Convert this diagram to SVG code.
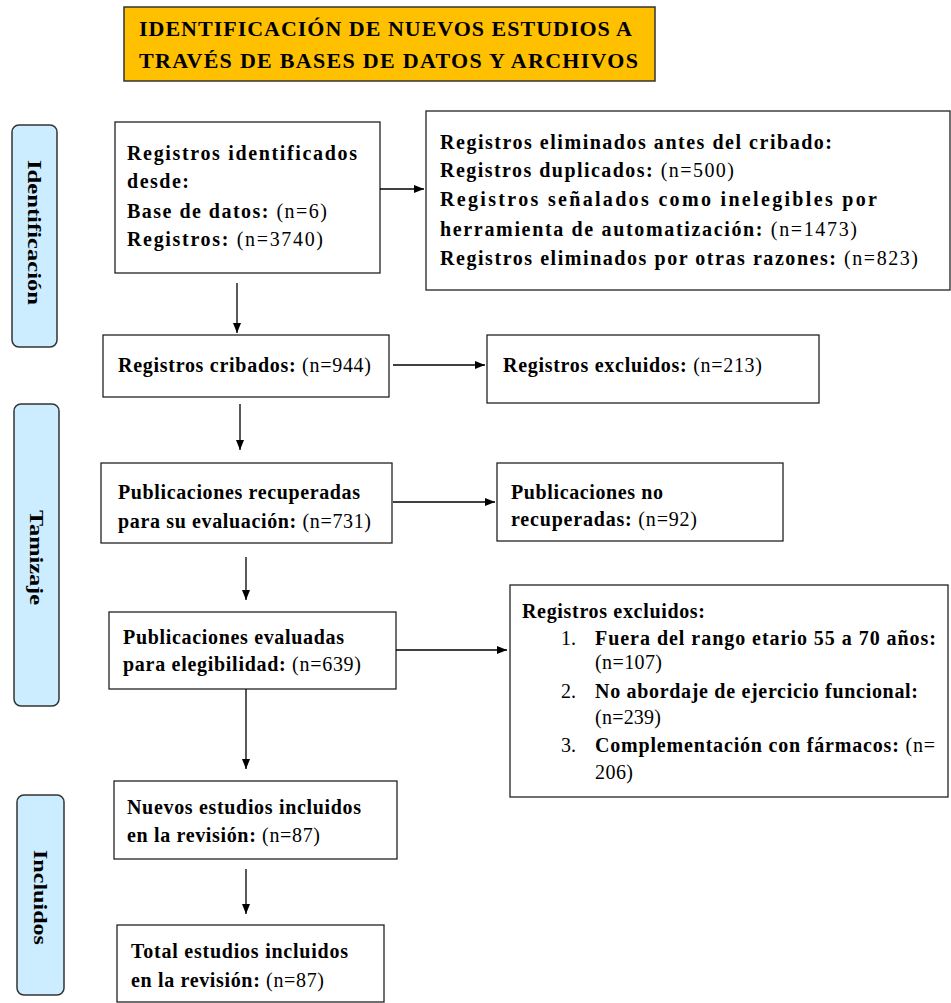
<svg xmlns="http://www.w3.org/2000/svg" width="951" height="1003" viewBox="0 0 951 1003">
<defs>
<style>
.box{fill:#fff;stroke:#222;stroke-width:1.3}
.side{fill:#CCECFF;stroke:#333;stroke-width:1.5}
.title{fill:#FFC000;stroke:#333;stroke-width:1.5}
text{font-family:"Liberation Serif","Times New Roman",serif;font-size:20px;fill:#000}
.b{font-weight:bold}
.n{font-weight:normal}
.t{font-size:22px;font-weight:bold}
.s{font-size:18px;font-weight:bold}
.c{stroke:#000;stroke-width:1.3;fill:none}
</style>
<marker id="ah" viewBox="0 0 10 10" refX="10" refY="5" markerWidth="10" markerHeight="10" markerUnits="userSpaceOnUse" orient="auto">
<path d="M0,1 L10,5 L0,9 Z" fill="#000"/>
</marker>
</defs>
<rect width="951" height="1003" fill="#fff"/>

<g id="title">
<rect class="title" x="124" y="7" width="531" height="74"/>
<text class="t" x="139" y="36" textLength="493" lengthAdjust="spacing">IDENTIFICACIÓN DE NUEVOS ESTUDIOS A</text>
<text class="t" x="139" y="68" textLength="499" lengthAdjust="spacing">TRAVÉS DE BASES DE DATOS Y ARCHIVOS</text>
</g>

<g id="side-identificacion">
<rect class="side" x="12" y="125" width="45" height="222" rx="7"/>
<text class="s" transform="translate(28,160) rotate(90)" textLength="145" lengthAdjust="spacingAndGlyphs">Identificación</text>
</g>
<g id="side-tamizaje">
<rect class="side" x="14" y="404" width="45" height="302" rx="7"/>
<text class="s" transform="translate(30,510) rotate(90)" textLength="95" lengthAdjust="spacingAndGlyphs">Tamizaje</text>
</g>
<g id="side-incluidos">
<rect class="side" x="17" y="795" width="47" height="200" rx="7"/>
<text class="s" transform="translate(34,850) rotate(90)" textLength="95" lengthAdjust="spacingAndGlyphs">Incluidos</text>
</g>

<g id="box-identificados">
<rect class="box" x="115" y="122" width="265" height="151"/>
<text class="b" x="127" y="160" textLength="230" lengthAdjust="spacing">Registros identificados</text>
<text class="b" x="127" y="188" textLength="62" lengthAdjust="spacing">desde:</text>
<text x="127" y="218" textLength="200" lengthAdjust="spacing"><tspan class="b">Base de datos:</tspan><tspan class="n"> (n=6)</tspan></text>
<text x="127" y="246" textLength="196" lengthAdjust="spacing"><tspan class="b">Registros:</tspan><tspan class="n"> (n=3740)</tspan></text>
</g>

<g id="box-eliminados">
<rect class="box" x="426" y="111" width="524" height="179"/>
<text class="b" x="440" y="149" textLength="392" lengthAdjust="spacing">Registros eliminados antes del cribado:</text>
<text x="440" y="177" textLength="294" lengthAdjust="spacing"><tspan class="b">Registros duplicados:</tspan><tspan class="n"> (n=500)</tspan></text>
<text class="b" x="440" y="206" textLength="437" lengthAdjust="spacing">Registros señalados como inelegibles por</text>
<text x="440" y="236" textLength="417" lengthAdjust="spacing"><tspan class="b">herramienta de automatización:</tspan><tspan class="n"> (n=1473)</tspan></text>
<text x="440" y="265" textLength="478" lengthAdjust="spacing"><tspan class="b">Registros eliminados por otras razones:</tspan><tspan class="n"> (n=823)</tspan></text>
</g>

<g id="box-cribados">
<rect class="box" x="103" y="335" width="286" height="62"/>
<text x="118" y="372" textLength="253" lengthAdjust="spacing"><tspan class="b">Registros cribados:</tspan><tspan class="n"> (n=944)</tspan></text>
</g>

<g id="box-excluidos-213">
<rect class="box" x="487" y="335" width="332" height="68"/>
<text x="503" y="372" textLength="259" lengthAdjust="spacing"><tspan class="b">Registros excluidos:</tspan><tspan class="n"> (n=213)</tspan></text>
</g>

<g id="box-recuperadas">
<rect class="box" x="101" y="463" width="291" height="80"/>
<text class="b" x="118" y="499" textLength="242" lengthAdjust="spacing">Publicaciones recuperadas</text>
<text x="118" y="528" textLength="253" lengthAdjust="spacing"><tspan class="b">para su evaluación:</tspan><tspan class="n"> (n=731)</tspan></text>
</g>

<g id="box-no-recuperadas">
<rect class="box" x="497" y="463" width="286" height="78"/>
<text class="b" x="511" y="499" textLength="152" lengthAdjust="spacing">Publicaciones no</text>
<text x="511" y="526" textLength="186" lengthAdjust="spacing"><tspan class="b">recuperadas:</tspan><tspan class="n"> (n=92)</tspan></text>
</g>

<g id="box-evaluadas">
<rect class="box" x="109" y="612" width="287" height="77"/>
<text class="b" x="123" y="644" textLength="221" lengthAdjust="spacing">Publicaciones evaluadas</text>
<text x="123" y="671" textLength="238" lengthAdjust="spacing"><tspan class="b">para elegibilidad:</tspan><tspan class="n"> (n=639)</tspan></text>
</g>

<g id="box-excluidos-lista">
<rect class="box" x="510" y="585" width="438" height="212"/>
<text class="b" x="522" y="618" textLength="183" lengthAdjust="spacing">Registros excluidos:</text>
<text class="n" x="561" y="645">1.</text>
<text class="b" x="595" y="645" textLength="341" lengthAdjust="spacing">Fuera del rango etario 55 a 70 años:</text>
<text class="n" x="595" y="669" textLength="67" lengthAdjust="spacing">(n=107)</text>
<text class="n" x="561" y="698">2.</text>
<text class="b" x="595" y="698" textLength="323" lengthAdjust="spacing">No abordaje de ejercicio funcional:</text>
<text class="n" x="595" y="724" textLength="66" lengthAdjust="spacing">(n=239)</text>
<text class="n" x="561" y="752">3.</text>
<text x="595" y="752" textLength="340" lengthAdjust="spacing"><tspan class="b">Complementación con fármacos:</tspan><tspan class="n"> (n=</tspan></text>
<text class="n" x="595" y="779" textLength="38" lengthAdjust="spacing">206)</text>
</g>

<g id="box-nuevos">
<rect class="box" x="114" y="781" width="283" height="78"/>
<text class="b" x="127" y="814" textLength="234" lengthAdjust="spacing">Nuevos estudios incluidos</text>
<text x="127" y="842" textLength="193" lengthAdjust="spacing"><tspan class="b">en la revisión:</tspan><tspan class="n"> (n=87)</tspan></text>
</g>

<g id="box-total">
<rect class="box" x="117" y="925" width="267" height="77"/>
<text class="b" x="131" y="958" textLength="217" lengthAdjust="spacing">Total estudios incluidos</text>
<text x="131" y="987" textLength="193" lengthAdjust="spacing"><tspan class="b">en la revisión:</tspan><tspan class="n"> (n=87)</tspan></text>
</g>

<g id="connectors">
<line class="c" x1="380" y1="189" x2="424" y2="189" marker-end="url(#ah)"/>
<line class="c" x1="237" y1="283" x2="237" y2="333" marker-end="url(#ah)"/>
<line class="c" x1="393" y1="365" x2="485" y2="365" marker-end="url(#ah)"/>
<line class="c" x1="240" y1="404" x2="240" y2="450" marker-end="url(#ah)"/>
<line class="c" x1="393" y1="502" x2="495" y2="502" marker-end="url(#ah)"/>
<line class="c" x1="246" y1="557" x2="246" y2="600" marker-end="url(#ah)"/>
<line class="c" x1="396" y1="650" x2="507" y2="650" marker-end="url(#ah)"/>
<line class="c" x1="246" y1="689" x2="246" y2="769" marker-end="url(#ah)"/>
<line class="c" x1="246" y1="869" x2="246" y2="914" marker-end="url(#ah)"/>
</g>
</svg>
